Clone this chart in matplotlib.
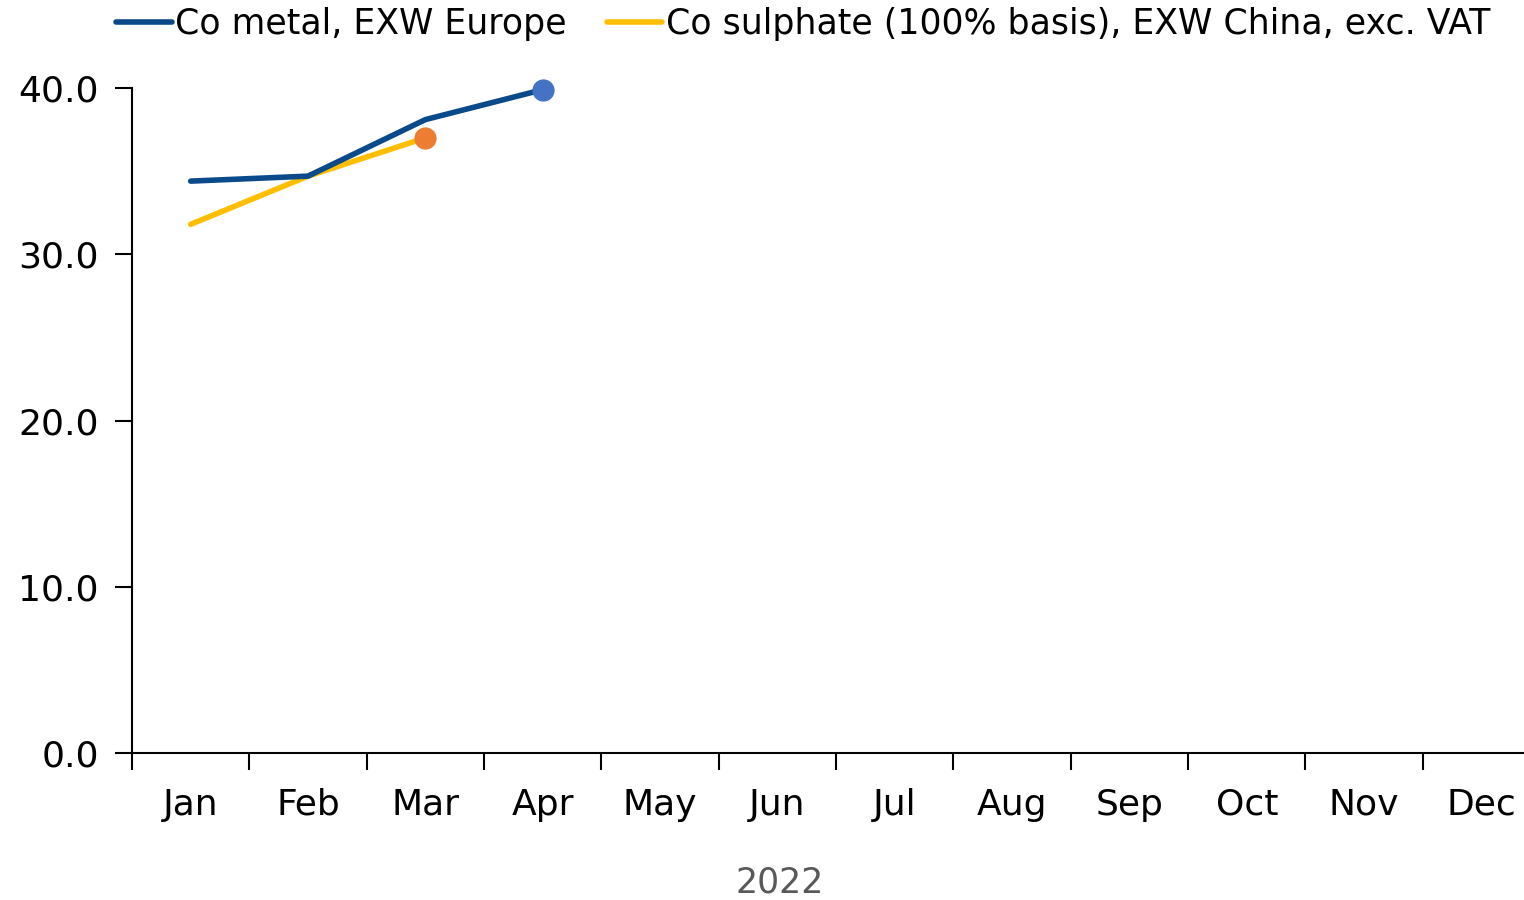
import numpy as np
import matplotlib.pyplot as plt

months = ["Jan", "Feb", "Mar", "Apr", "May", "Jun", "Jul", "Aug", "Sep", "Oct", "Nov", "Dec"]
co_metal = [34.4, 34.7, 38.1, 39.9]
co_sulphate = [31.8, 34.7, 37.0]
year_label = "2022"
yticks = [0, 10, 20, 30, 40]

plt.rcParams['font.family'] = ['DejaVu Sans']

fig = plt.figure(figsize=(15.24, 9.0), dpi=100)
ax = fig.add_axes([0.0866, 0.1633, 0.924, 0.7389])

x = np.arange(len(months))
ax.plot(x[:len(co_metal)], co_metal, color="#0A4A8A", lw=4, solid_capstyle="round",
        label="Co metal, EXW Europe", zorder=3)
ax.plot(x[:len(co_sulphate)], co_sulphate, color="#FFBF00", lw=4, solid_capstyle="round",
        label="Co sulphate (100% basis), EXW China, exc. VAT", zorder=2)
ax.plot(x[len(co_metal) - 1], co_metal[-1], "o", color="#4472C4", ms=15, zorder=4, clip_on=False)
ax.plot(x[len(co_sulphate) - 1], co_sulphate[-1], "o", color="#ED7D31", ms=15, zorder=4, clip_on=False)

ax.set_xlim(-0.5, len(months) - 0.5)
ax.set_ylim(0, 40)
ax.set_yticks(yticks)
ax.set_yticklabels([f"{v:.1f}" for v in yticks])

ax.set_xticks(np.arange(len(months) + 1) - 0.5)
ax.set_xticklabels([])
ax.set_xticks(x, minor=True)
ax.set_xticklabels(months, minor=True)
ax.tick_params(axis="x", which="major", length=12, width=1.5, direction="out")
ax.tick_params(axis="x", which="minor", length=0, pad=25, labelsize=26)
ax.tick_params(axis="y", length=12, width=1.5, labelsize=26, pad=12)

for s in ["top", "right"]:
    ax.spines[s].set_visible(False)
ax.spines["left"].set_linewidth(1.5)
ax.spines["bottom"].set_linewidth(1.5)

ax.set_xlabel(year_label, fontsize=25, color="#595959")
ax.xaxis.set_label_coords(648 / 1408, -0.169)

ax.legend(loc="upper left", bbox_to_anchor=(-0.021, 1.1425), ncol=2, frameon=False,
          fontsize=25, handlelength=1.6, handletextpad=0.1, columnspacing=1.15,
          borderaxespad=0)

fig.savefig("out.png", dpi=100)
